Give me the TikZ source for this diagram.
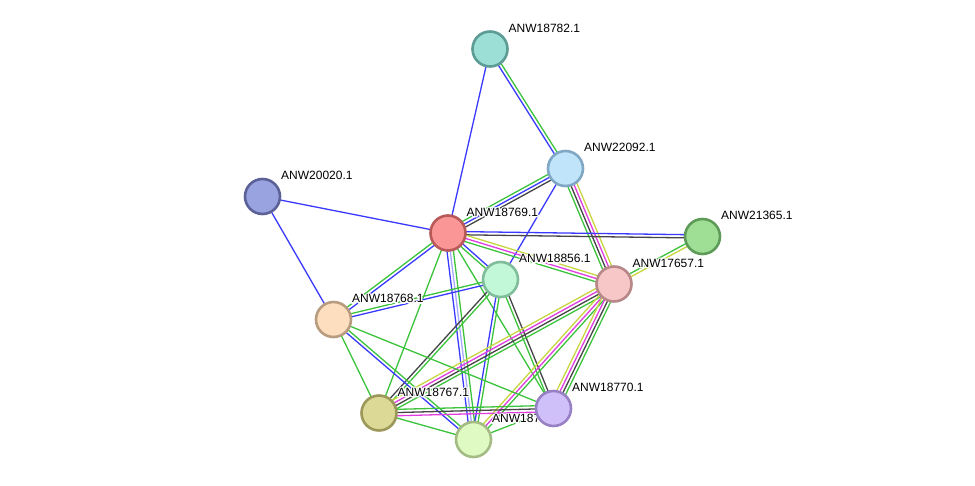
\documentclass[tikz,border=0pt]{standalone}
\usepackage{fontspec}
\setmainfont{Liberation Sans}
\usetikzlibrary{calc}
\pgfdeclarelayer{edges}
\pgfsetlayers{edges,main}
\definecolor{egreen}{HTML}{3CC33C}
\definecolor{eblue}{HTML}{3A3AFF}
\definecolor{edark}{HTML}{454545}
\definecolor{emag}{HTML}{E03CE0}
\definecolor{eyel}{HTML}{C8D640}
\definecolor{elav}{HTML}{A8A8FF}
\tikzset{
  edge/.style={line width=1.3pt},
  prot/.style={circle, draw, line width=2.6pt, minimum size=35pt, inner sep=0pt},
  lbl/.style={anchor=west, inner sep=0pt, font=\fontsize{12}{14}\selectfont},
}
\newcommand\bundle[3]{%
  \foreach \c [count=\i] in {#3} {\global\let\nbl\i}%
  \foreach \c [count=\i] in {#3} {%
    \pgfmathsetmacro\off{(\i-(\nbl+1)/2)*3.2}%
    \draw[edge,draw=\c] ($(#1.center)!\off pt!90:(#2.center)$) -- ($(#2.center)!\off pt!-90:(#1.center)$);
  }%
}
\newcommand\halotext[1]{%
  \rlap{\special{pdf:literal 1 Tr 2.6 w 1 j 1 1 1 RG}#1\special{pdf:literal 0 Tr 0 0 0 RG}}#1}
\newcommand\plabel[2]{%
  \node[lbl] (#1-l) at ($(#1.center)+(18.5,-21)$) {\halotext{#2}};
}
\newcommand\prot[6]{% name, x, y, fill, border, text
  \definecolor{#1fill}{HTML}{#4}%
  \definecolor{#1line}{HTML}{#5}%
  \node[prot, fill=#1fill, draw=#1line] (#1) at (#2,#3) {};
  \plabel{#1}{#6}
}
\begin{document}
\begin{tikzpicture}[x=1pt,y=-1pt]
\useasboundingbox (0,0) rectangle (975,485);
\prot{A}{490}{49}{9CDFD6}{5C9C94}{ANW18782.1}
\prot{B}{565.5}{168.5}{C0E4FA}{80A8C4}{ANW22092.1}
\prot{C}{262.5}{196.5}{99A3E0}{5C6298}{ANW20020.1}
\prot{G}{702.5}{236.5}{9FDF95}{5E9A58}{ANW21365.1}
\prot{R}{448}{233}{FA9696}{B85A5A}{ANW18769.1}
\prot{N}{500.5}{279.5}{C2F7D8}{80BD9A}{ANW18856.1}
\prot{P}{614}{284}{F7C6C6}{B88888}{ANW17657.1}
\prot{F}{333.5}{319.5}{FDDFC0}{B89C80}{ANW18768.1}
\prot{Y}{379}{413}{DCD896}{9C985A}{ANW18767.1}
\prot{Z}{473.5}{439.5}{E0FAC3}{A4BC84}{ANW18771.1}
\prot{L}{553.5}{408.5}{D0C0FA}{9880C4}{ANW18770.1}
\begin{pgfonlayer}{edges}
\fill[white] (0,0) rectangle (975,485);
\bundle{A}{R}{eblue}
\bundle{A}{B}{eblue,egreen}
\bundle{R}{B}{edark,eblue,egreen}
\bundle{B}{N}{eblue}
\bundle{B}{P}{egreen,edark,emag,eyel}
\bundle{C}{R}{eblue}
\bundle{C}{F}{eblue}
\bundle{R}{G}{edark,eblue}
\bundle{R}{P}{egreen,emag,eyel}
\bundle{R}{N}{egreen,eblue}
\bundle{R}{F}{egreen,eblue}
\bundle{R}{Y}{egreen}
\bundle{R}{Z}{eblue,elav,egreen}
\bundle{R}{L}{egreen}
\bundle{N}{F}{egreen,eblue}
\bundle{N}{Y}{edark,egreen}
\bundle{N}{Z}{eblue,egreen}
\bundle{N}{L}{egreen,edark}
\bundle{P}{G}{eyel,egreen}
\bundle{P}{Y}{eyel,emag,edark,egreen}
\bundle{P}{Z}{eyel,emag,egreen}
\bundle{P}{L}{eyel,emag,edark,egreen}
\bundle{F}{Y}{egreen}
\bundle{F}{Z}{eblue,egreen}
\bundle{F}{L}{egreen}
\bundle{Y}{L}{emag,edark,egreen}
\bundle{Y}{Z}{egreen}
\bundle{Z}{L}{egreen}
\end{pgfonlayer}
\end{tikzpicture}
\end{document}
